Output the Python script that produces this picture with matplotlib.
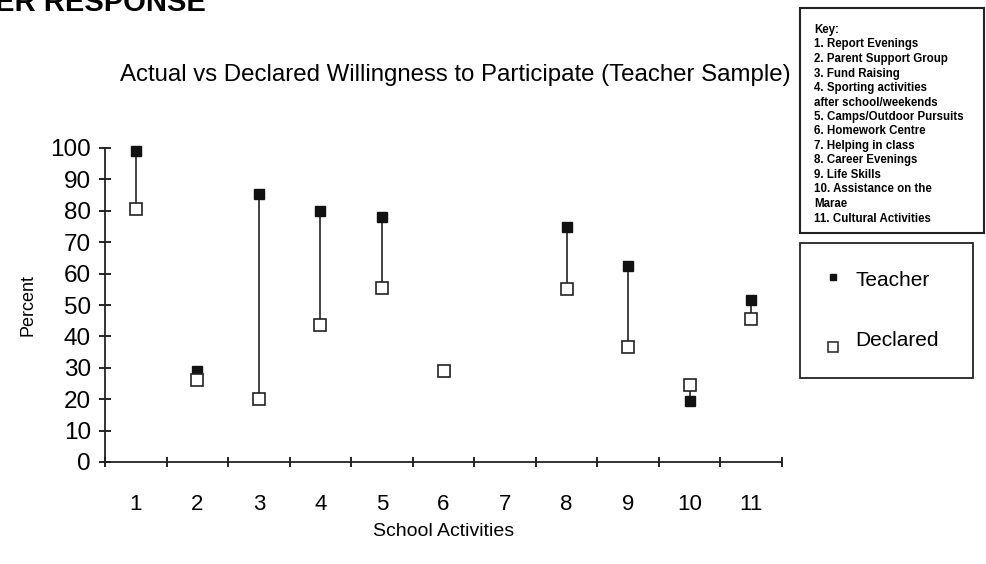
import numpy as np
import matplotlib.pyplot as plt
from matplotlib.patches import Rectangle

# Data
activities = [1, 2, 3, 4, 5, 6, 7, 8, 9, 10, 11]
teacher = [99, 29, 85.5, 80, 78, 29, None, 75, 62.5, 19.5, 51.5]
declared = [80.5, 26, 20, 43.5, 55.5, 29, None, 55, 36.5, 24.5, 45.5]
key_lines = ["Key:", "1. Report Evenings", "2. Parent Support Group", "3. Fund Raising",
             "4. Sporting activities", "after school/weekends", "5. Camps/Outdoor Pursuits",
             "6. Homework Centre", "7. Helping in class", "8. Career Evenings",
             "9. Life Skills", "10. Assistance on the", "Marae", "11. Cultural Activities"]

plt.rcParams['font.family'] = ['Liberation Sans', 'DejaVu Sans']

fig = plt.figure(figsize=(9.86, 5.64), dpi=100)
ax = fig.add_axes([105/986, 1-462/564, (782-105)/986, (462-148)/564])

for x, t, d in zip(activities, teacher, declared):
    if t is None or d is None:
        continue
    ax.plot([x, x], [t, d], color='#222222', lw=1.2, zorder=1)

xs_t = [x for x, t in zip(activities, teacher) if t is not None]
ys_t = [t for t in teacher if t is not None]
xs_d = [x for x, d in zip(activities, declared) if d is not None]
ys_d = [d for d in declared if d is not None]
ax.plot(xs_t, ys_t, 's', ms=7, color='#111111', clip_on=False, zorder=2)
ax.plot(xs_d, ys_d, 's', ms=9, mfc='white', mec='#222222', mew=1.2, clip_on=False, zorder=3)

ax.set_xlim(0.5, 11.5)
ax.set_ylim(0, 100)
ax.set_yticks(np.arange(0, 101, 10))
ax.set_xticks(activities)
ax.set_xticks(np.arange(0.5, 11.6, 1), minor=True)
ax.tick_params(axis='x', which='major', length=0, pad=23, labelsize=16)
ax.tick_params(axis='x', which='minor', length=7, direction='inout', width=1.2)
ax.tick_params(axis='y', length=8, direction='inout', width=1.2, labelsize=17.5, pad=6)
for s in ['top', 'right']:
    ax.spines[s].set_visible(False)
for s in ['left', 'bottom']:
    ax.spines[s].set_linewidth(1.3)
    ax.spines[s].set_color('#222222')

ax.set_xlabel('School Activities', fontsize=14, labelpad=6)
ax.set_ylabel('Percent', fontsize=13, labelpad=10, fontstretch='condensed')

fig.text(455/986, 1-75/564, 'Actual vs Declared Willingness to Participate (Teacher Sample)',
         ha='center', va='center', fontsize=17.3)
fig.text(-0.005, 1-3/564, 'ER RESPONSE', ha='left', va='center', fontsize=21, fontweight='bold')

# key box
fig.patches.append(Rectangle((800/986, 1-233/564), 184/986, 225/564, transform=fig.transFigure,
                             fill=False, ec='#222222', lw=1.5))
for i, line in enumerate(key_lines):
    fig.text(814/986, 1-(30 + i*14.5)/564, line, ha='left', va='center', fontsize=8.3,
             fontweight='bold')

# legend box
fig.patches.append(Rectangle((800/986, 1-378/564), 173/986, 135/564, transform=fig.transFigure,
                             fill=False, ec='#222222', lw=1.3))
lax = fig.add_axes([800/986, 1-378/564, 173/986, 135/564])
lax.set_xlim(800, 973)
lax.set_ylim(378, 243)
lax.axis('off')
lax.plot([833], [277], 's', ms=5, color='#111111')
lax.plot([833], [347], 's', ms=7, mfc='white', mec='#222222', mew=1.1)
lax.text(855, 280, 'Teacher', fontsize=15, va='center')
lax.text(855, 341, 'Declared', fontsize=15, va='center')

fig.savefig('out.png', dpi=100, facecolor='white')
